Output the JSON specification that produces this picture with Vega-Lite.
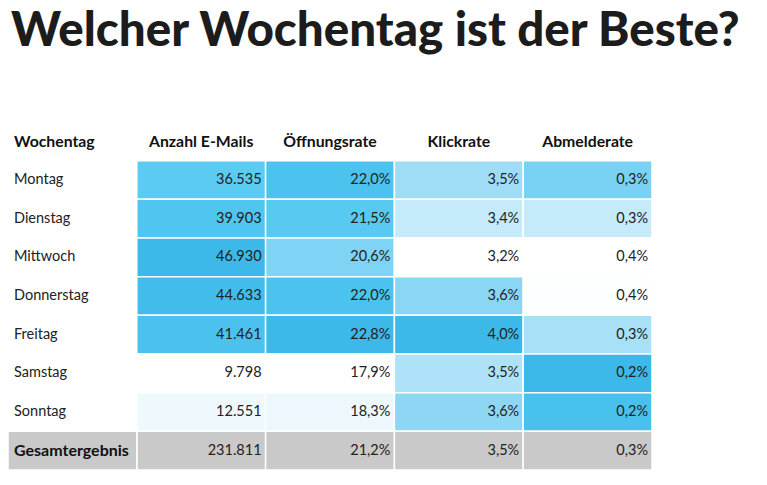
{
  "$schema": "https://vega.github.io/schema/vega-lite/v6.json",
  "width": 644,
  "height": 348,
  "autosize": "none",
  "padding": {"left": 8, "top": 122, "right": 115, "bottom": 15},
  "background": "white",
  "title": {
    "text": "Welcher Wochentag ist der Beste?",
    "anchor": "start",
    "frame": "group",
    "font": "Lato",
    "fontWeight": 900,
    "fontSize": 47.5,
    "color": "#1c1c1c",
    "offset": 67,
    "dx": 3
  },
  "config": {
    "view": {"stroke": null},
    "locale": {"number": {"decimal": ",", "thousands": ".", "grouping": [3], "currency": ["", " €"]}},
    "text": {"font": "Lato", "fontSize": 14.5, "color": "#222222"}
  },
  "data": {
    "values": [
      {"tag": "Montag", "spalte": "Anzahl E-Mails", "wert": 36535},
      {"tag": "Montag", "spalte": "Öffnungsrate", "wert": 0.220},
      {"tag": "Montag", "spalte": "Klickrate", "wert": 0.0353},
      {"tag": "Montag", "spalte": "Abmelderate", "wert": 0.00261},
      {"tag": "Dienstag", "spalte": "Anzahl E-Mails", "wert": 39903},
      {"tag": "Dienstag", "spalte": "Öffnungsrate", "wert": 0.215},
      {"tag": "Dienstag", "spalte": "Klickrate", "wert": 0.0340},
      {"tag": "Dienstag", "spalte": "Abmelderate", "wert": 0.0034},
      {"tag": "Mittwoch", "spalte": "Anzahl E-Mails", "wert": 46930},
      {"tag": "Mittwoch", "spalte": "Öffnungsrate", "wert": 0.206},
      {"tag": "Mittwoch", "spalte": "Klickrate", "wert": 0.0320},
      {"tag": "Mittwoch", "spalte": "Abmelderate", "wert": 0.0040},
      {"tag": "Donnerstag", "spalte": "Anzahl E-Mails", "wert": 44633},
      {"tag": "Donnerstag", "spalte": "Öffnungsrate", "wert": 0.220},
      {"tag": "Donnerstag", "spalte": "Klickrate", "wert": 0.0360},
      {"tag": "Donnerstag", "spalte": "Abmelderate", "wert": 0.00398},
      {"tag": "Freitag", "spalte": "Anzahl E-Mails", "wert": 41461},
      {"tag": "Freitag", "spalte": "Öffnungsrate", "wert": 0.228},
      {"tag": "Freitag", "spalte": "Klickrate", "wert": 0.0400},
      {"tag": "Freitag", "spalte": "Abmelderate", "wert": 0.00309},
      {"tag": "Samstag", "spalte": "Anzahl E-Mails", "wert": 9798},
      {"tag": "Samstag", "spalte": "Öffnungsrate", "wert": 0.179},
      {"tag": "Samstag", "spalte": "Klickrate", "wert": 0.0348},
      {"tag": "Samstag", "spalte": "Abmelderate", "wert": 0.0016},
      {"tag": "Sonntag", "spalte": "Anzahl E-Mails", "wert": 12551},
      {"tag": "Sonntag", "spalte": "Öffnungsrate", "wert": 0.183},
      {"tag": "Sonntag", "spalte": "Klickrate", "wert": 0.0359},
      {"tag": "Sonntag", "spalte": "Abmelderate", "wert": 0.00189},
      {"tag": "Gesamtergebnis", "spalte": "Anzahl E-Mails", "wert": 231811},
      {"tag": "Gesamtergebnis", "spalte": "Öffnungsrate", "wert": 0.212},
      {"tag": "Gesamtergebnis", "spalte": "Klickrate", "wert": 0.035},
      {"tag": "Gesamtergebnis", "spalte": "Abmelderate", "wert": 0.003}
    ]
  },
  "encoding": {
    "y": {
      "field": "tag",
      "type": "nominal",
      "axis": null,
      "scale": {
        "domain": ["Kopf", "Montag", "Dienstag", "Mittwoch", "Donnerstag", "Freitag", "Samstag", "Sonntag", "Gesamtergebnis"],
        "paddingInner": 0,
        "paddingOuter": 0
      }
    }
  },
  "layer": [
    {
      "transform": [{"filter": "datum.spalte === 'Anzahl E-Mails' && datum.tag !== 'Gesamtergebnis'"}],
      "mark": {"type": "rect", "stroke": "white", "strokeWidth": 1.5},
      "encoding": {
        "x": {"field": "spalte", "type": "nominal", "axis": null,
              "scale": {"domain": ["Wochentag", "Anzahl E-Mails", "Öffnungsrate", "Klickrate", "Abmelderate"], "paddingInner": 0, "paddingOuter": 0}},
        "color": {"field": "wert", "type": "quantitative", "legend": null,
                  "scale": {"range": ["#ffffff", "#c5eafa", "#8ad6f4", "#55c9f2", "#3cb9e9"], "interpolate": "rgb"}}
      }
    },
    {
      "transform": [{"filter": "datum.spalte === 'Öffnungsrate' && datum.tag !== 'Gesamtergebnis'"}],
      "mark": {"type": "rect", "stroke": "white", "strokeWidth": 1.5},
      "encoding": {
        "x": {"field": "spalte", "type": "nominal", "axis": null},
        "color": {"field": "wert", "type": "quantitative", "legend": null,
                  "scale": {"range": ["#ffffff", "#c5eafa", "#8ad6f4", "#55c9f2", "#3cb9e9"], "interpolate": "rgb"}}
      }
    },
    {
      "transform": [{"filter": "datum.spalte === 'Klickrate' && datum.tag !== 'Gesamtergebnis'"}],
      "mark": {"type": "rect", "stroke": "white", "strokeWidth": 1.5},
      "encoding": {
        "x": {"field": "spalte", "type": "nominal", "axis": null},
        "color": {"field": "wert", "type": "quantitative", "legend": null,
                  "scale": {"range": ["#ffffff", "#c5eafa", "#8ad6f4", "#55c9f2", "#3cb9e9"], "interpolate": "rgb"}}
      }
    },
    {
      "transform": [{"filter": "datum.spalte === 'Abmelderate' && datum.tag !== 'Gesamtergebnis'"}],
      "mark": {"type": "rect", "stroke": "white", "strokeWidth": 1.5},
      "encoding": {
        "x": {"field": "spalte", "type": "nominal", "axis": null},
        "color": {"field": "wert", "type": "quantitative", "legend": null,
                  "scale": {"range": ["#ffffff", "#c5eafa", "#8ad6f4", "#55c9f2", "#3cb9e9"], "interpolate": "rgb", "reverse": true}}
      }
    },
    {
      "transform": [{"filter": "datum.tag === 'Gesamtergebnis'"}],
      "mark": {"type": "rect", "stroke": "white", "strokeWidth": 1.5, "fill": "#c9c9c9"},
      "encoding": {
        "x": {"field": "spalte", "type": "nominal", "axis": null}
      }
    },
    {
      "transform": [{"filter": "datum.tag === 'Gesamtergebnis' && datum.spalte === 'Anzahl E-Mails'"}],
      "mark": {"type": "rect", "stroke": "white", "strokeWidth": 1.5, "fill": "#c9c9c9"},
      "encoding": {
        "x": {"datum": "Wochentag", "type": "nominal", "axis": null}
      }
    },
    {
      "transform": [{"filter": "datum.spalte === 'Anzahl E-Mails' && datum.tag !== 'Gesamtergebnis'"}],
      "mark": {"type": "text", "align": "left", "dx": 6},
      "encoding": {
        "x": {"datum": "Wochentag", "type": "nominal", "bandPosition": 0},
        "text": {"field": "tag"}
      }
    },
    {
      "transform": [{"filter": "datum.spalte === 'Anzahl E-Mails' && datum.tag === 'Gesamtergebnis'"}],
      "mark": {"type": "text", "align": "left", "dx": 6, "fontWeight": "bold", "fontSize": 16, "color": "#111111"},
      "encoding": {
        "x": {"datum": "Wochentag", "type": "nominal", "bandPosition": 0},
        "text": {"field": "tag"}
      }
    },
    {
      "transform": [{"filter": "datum.spalte === 'Anzahl E-Mails'"}],
      "mark": {"type": "text", "align": "right", "dx": -4},
      "encoding": {
        "x": {"field": "spalte", "type": "nominal", "bandPosition": 1},
        "text": {"field": "wert", "type": "quantitative", "format": ","}
      }
    },
    {
      "transform": [{"filter": "datum.spalte !== 'Anzahl E-Mails'"}],
      "mark": {"type": "text", "align": "right", "dx": -4},
      "encoding": {
        "x": {"field": "spalte", "type": "nominal", "bandPosition": 1},
        "text": {"field": "wert", "type": "quantitative", "format": ".1%"}
      }
    },
    {
      "data": {"values": [
        {"kopf": "Wochentag"},
        {"kopf": "Anzahl E-Mails"},
        {"kopf": "Öffnungsrate"},
        {"kopf": "Klickrate"},
        {"kopf": "Abmelderate"}
      ]},
      "transform": [{"filter": "datum.kopf !== 'Wochentag'"}],
      "mark": {"type": "text", "align": "center", "fontWeight": "bold", "fontSize": 15.8, "color": "#111111", "dy": 1},
      "encoding": {
        "x": {"field": "kopf", "type": "nominal"},
        "y": {"datum": "Kopf", "type": "nominal"},
        "text": {"field": "kopf"}
      }
    },
    {
      "data": {"values": [
        {"kopf": "Wochentag"},
        {"kopf": "Anzahl E-Mails"},
        {"kopf": "Öffnungsrate"},
        {"kopf": "Klickrate"},
        {"kopf": "Abmelderate"}
      ]},
      "transform": [{"filter": "datum.kopf === 'Wochentag'"}],
      "mark": {"type": "text", "align": "left", "dx": 6, "fontWeight": "bold", "fontSize": 15.8, "color": "#111111", "dy": 1},
      "encoding": {
        "x": {"field": "kopf", "type": "nominal", "bandPosition": 0},
        "y": {"datum": "Kopf", "type": "nominal"},
        "text": {"field": "kopf"}
      }
    }
  ],
  "resolve": {"scale": {"color": "independent"}}
}
